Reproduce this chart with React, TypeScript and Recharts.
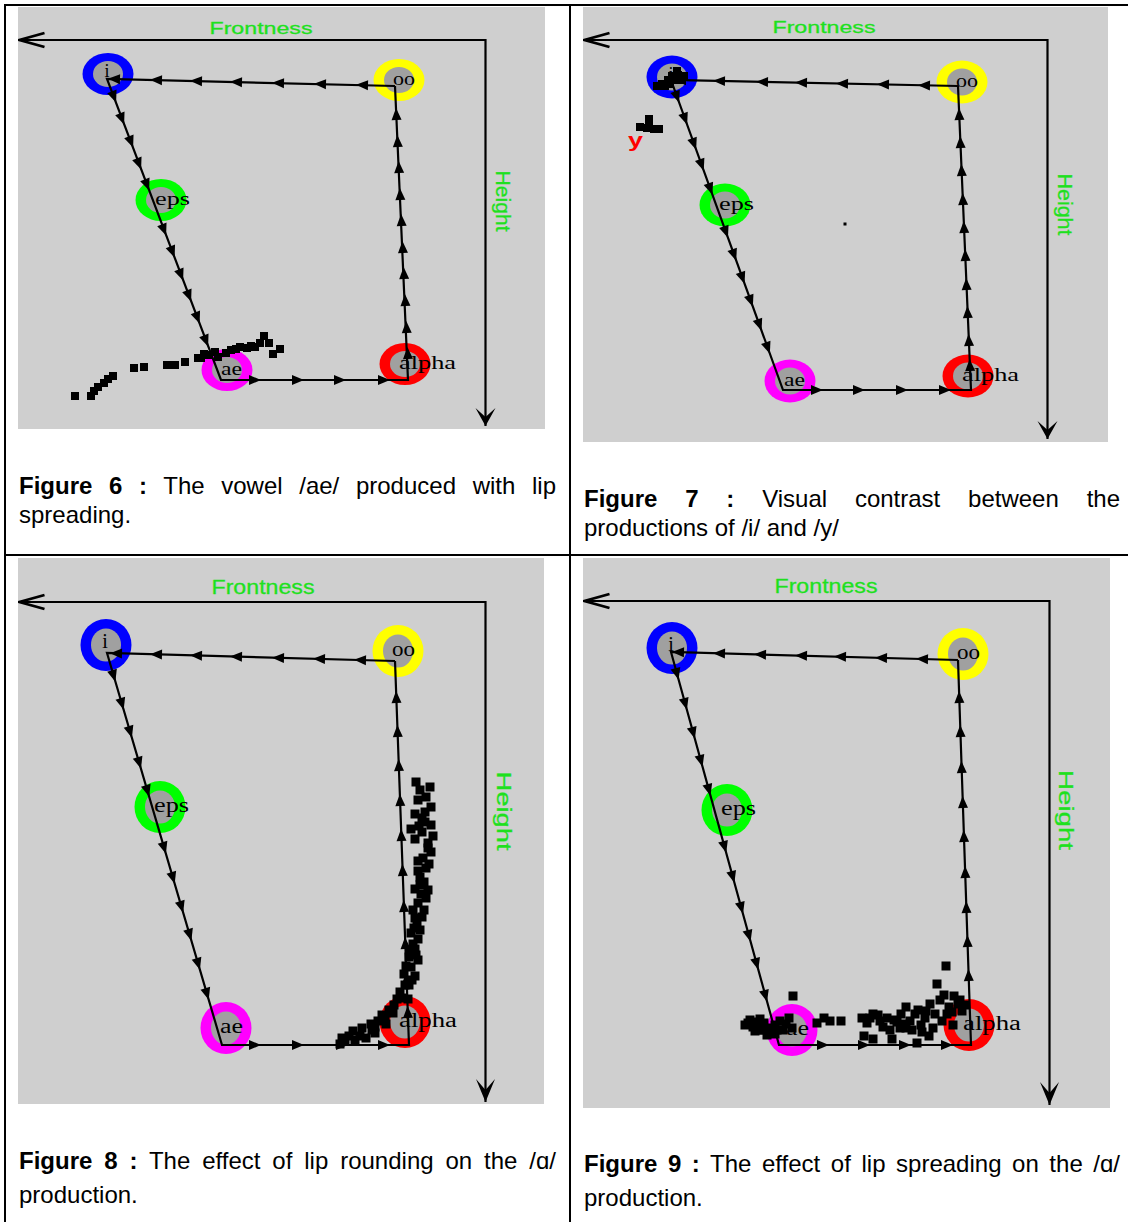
import React from 'react';
import { ScatterChart, Scatter, XAxis, YAxis } from 'recharts';

// ---------------- Figure 6 : /ae/ with lip spreading ----------------
const fig6Vowels = [
  { name: 'i', x: 108, y: 74 },
  { name: 'oo', x: 399, y: 80 },
  { name: 'eps', x: 161, y: 200 },
  { name: 'ae', x: 227, y: 370 },
  { name: 'alpha', x: 405, y: 364 },
];
const fig6Path = [
  { x: 395, y: 86 }, { x: 107, y: 79 }, { x: 221, y: 380 }, { x: 408, y: 380 }, { x: 395, y: 86 },
];
const fig6Arrows = [
  { leg: 0, x: 362, y: 85 }, { leg: 0, x: 320, y: 84 }, { leg: 0, x: 278, y: 83 }, { leg: 0, x: 236, y: 82 },
  { leg: 0, x: 196, y: 81 }, { leg: 0, x: 156, y: 80 }, { leg: 0, x: 114, y: 79 },
  { leg: 1, x: 114, y: 97 }, { leg: 1, x: 122, y: 119 }, { leg: 1, x: 131, y: 142 }, { leg: 1, x: 139, y: 164 },
  { leg: 1, x: 147, y: 185 }, { leg: 1, x: 164, y: 230 }, { leg: 1, x: 172.5, y: 252 }, { leg: 1, x: 181, y: 275 },
  { leg: 1, x: 189, y: 296 }, { leg: 1, x: 197.5, y: 318 }, { leg: 1, x: 206, y: 341 },
  { leg: 2, x: 255, y: 380 }, { leg: 2, x: 298, y: 380 }, { leg: 2, x: 340, y: 380 }, { leg: 2, x: 384, y: 380 },
  { leg: 3, x: 407.7, y: 353 }, { leg: 3, x: 406.5, y: 327 }, { leg: 3, x: 405.2, y: 300 }, { leg: 3, x: 403.9, y: 273 },
  { leg: 3, x: 402.7, y: 247 }, { leg: 3, x: 401.4, y: 220 }, { leg: 3, x: 400.1, y: 194 }, { leg: 3, x: 398.9, y: 167 },
  { leg: 3, x: 397.6, y: 141 }, { leg: 3, x: 396.3, y: 114 },
];
const fig6Tokens = [
  { x: 75, y: 396 }, { x: 91, y: 396 }, { x: 94, y: 391 }, { x: 98, y: 387 }, { x: 104, y: 383 }, { x: 108, y: 379 },
  { x: 113, y: 376 }, { x: 134, y: 368 }, { x: 144, y: 367 }, { x: 167, y: 365 }, { x: 175, y: 365 }, { x: 185, y: 362 },
  { x: 198, y: 358 }, { x: 204, y: 354 }, { x: 209, y: 355 }, { x: 215, y: 352 }, { x: 218, y: 357 }, { x: 226, y: 353 },
  { x: 231, y: 350 }, { x: 240, y: 347 }, { x: 247, y: 348 }, { x: 255, y: 347 }, { x: 260, y: 343 }, { x: 264, y: 336 },
  { x: 269, y: 343 }, { x: 273, y: 354 }, { x: 280, y: 349 }, { x: 201, y: 358 }, { x: 236, y: 349 }, { x: 251, y: 346 },
];

// ---------------- Figure 7 : /i/ vs /y/ ----------------
const fig7Vowels = [
  { name: 'i', x: 672, y: 77 },
  { name: 'oo', x: 962, y: 82 },
  { name: 'eps', x: 725, y: 205 },
  { name: 'ae', x: 790, y: 381 },
  { name: 'alpha', x: 968, y: 376 },
];
const fig7Path = [
  { x: 958, y: 86 }, { x: 671, y: 80 }, { x: 783, y: 390 }, { x: 971, y: 390 }, { x: 958, y: 86 },
];
const fig7Arrows = [
  { leg: 0, x: 924, y: 85.3 }, { leg: 0, x: 883, y: 84.4 }, { leg: 0, x: 842, y: 83.6 }, { leg: 0, x: 801, y: 82.7 },
  { leg: 0, x: 762, y: 81.9 }, { leg: 0, x: 719, y: 81 }, { leg: 0, x: 680, y: 80.2 },
  { leg: 1, x: 677.1, y: 97 }, { leg: 1, x: 685.1, y: 119 }, { leg: 1, x: 694.1, y: 144 }, { leg: 1, x: 701.7, y: 165 },
  { leg: 1, x: 710.4, y: 189 }, { leg: 1, x: 725.9, y: 232 }, { leg: 1, x: 734.2, y: 255 }, { leg: 1, x: 742.5, y: 278 },
  { leg: 1, x: 750.8, y: 301 }, { leg: 1, x: 759.5, y: 325 }, { leg: 1, x: 767.8, y: 348 },
  { leg: 2, x: 817, y: 390 }, { leg: 2, x: 859, y: 390 }, { leg: 2, x: 902, y: 390 }, { leg: 2, x: 945, y: 390 },
  { leg: 3, x: 969.9, y: 365 }, { leg: 3, x: 968.8, y: 340 }, { leg: 3, x: 967.6, y: 312 }, { leg: 3, x: 966.4, y: 284 },
  { leg: 3, x: 965.3, y: 255 }, { leg: 3, x: 964, y: 227 }, { leg: 3, x: 962.9, y: 199 }, { leg: 3, x: 961.6, y: 170 },
  { leg: 3, x: 960.4, y: 142 }, { leg: 3, x: 959.2, y: 114 },
];
const fig7Tokens = [
  { x: 684, y: 76 }, { x: 678, y: 75 }, { x: 672, y: 76 }, { x: 668, y: 80 }, { x: 676, y: 80 }, { x: 682, y: 80 },
  { x: 662, y: 84 }, { x: 657, y: 86 }, { x: 665, y: 86 }, { x: 670, y: 84 }, { x: 677, y: 71 },
  { x: 649, y: 119 }, { x: 649, y: 124 }, { x: 640, y: 127 }, { x: 647, y: 128 }, { x: 654, y: 129 }, { x: 659, y: 129 },
];
const fig7Speck = [{ x: 845, y: 224 }];
const fig7Marker = [{ x: 635.5, y: 147, text: 'y' }];

// ---------------- Figure 8 : lip rounding on /ɑ/ ----------------
const fig8Vowels = [
  { name: 'i', x: 106, y: 645 },
  { name: 'oo', x: 398, y: 651 },
  { name: 'eps', x: 160, y: 807 },
  { name: 'ae', x: 226, y: 1028 },
  { name: 'alpha', x: 405, y: 1022 },
];
const fig8Path = [
  { x: 395, y: 661 }, { x: 107, y: 653 }, { x: 222, y: 1045 }, { x: 409, y: 1045 }, { x: 395, y: 661 },
];
const fig8Arrows = [
  { leg: 0, x: 360, y: 660 }, { leg: 0, x: 319, y: 658.9 }, { leg: 0, x: 278, y: 657.8 }, { leg: 0, x: 236, y: 656.6 },
  { leg: 0, x: 196, y: 655.5 }, { leg: 0, x: 156, y: 654.4 }, { leg: 0, x: 116, y: 653.3 },
  { leg: 1, x: 113.7, y: 676 }, { leg: 1, x: 122, y: 704 }, { leg: 1, x: 130.2, y: 732 }, { leg: 1, x: 139.3, y: 763 },
  { leg: 1, x: 147.5, y: 791 }, { leg: 1, x: 164.2, y: 848 }, { leg: 1, x: 173, y: 878 }, { leg: 1, x: 181.5, y: 907 },
  { leg: 1, x: 189.7, y: 935 }, { leg: 1, x: 198.2, y: 964 }, { leg: 1, x: 207, y: 994 },
  { leg: 2, x: 255, y: 1045 }, { leg: 2, x: 298, y: 1045 }, { leg: 2, x: 342, y: 1045 }, { leg: 2, x: 384, y: 1045 },
  { leg: 3, x: 407.8, y: 1012 }, { leg: 3, x: 406.6, y: 978 }, { leg: 3, x: 405.3, y: 943 }, { leg: 3, x: 403.9, y: 906 },
  { leg: 3, x: 402.6, y: 870 }, { leg: 3, x: 401.3, y: 835 }, { leg: 3, x: 400.1, y: 800 }, { leg: 3, x: 398.8, y: 765 },
  { leg: 3, x: 397.6, y: 731 }, { leg: 3, x: 396.3, y: 697 },
];
const fig8Tokens = [
  { x: 416, y: 782 }, { x: 430, y: 787 }, { x: 426, y: 797 }, { x: 418, y: 800 }, { x: 431, y: 807 }, { x: 415, y: 814 },
  { x: 422, y: 818 }, { x: 431, y: 825 }, { x: 411, y: 829 }, { x: 422, y: 832 }, { x: 433, y: 836 }, { x: 415, y: 839 },
  { x: 428, y: 843 }, { x: 431, y: 852 }, { x: 418, y: 861 }, { x: 429, y: 864 }, { x: 418, y: 871 }, { x: 424, y: 882 },
  { x: 415, y: 889 }, { x: 426, y: 898 }, { x: 418, y: 903 }, { x: 413, y: 910 }, { x: 422, y: 917 }, { x: 417, y: 925 },
  { x: 411, y: 933 }, { x: 418, y: 939 }, { x: 415, y: 949 }, { x: 409, y: 957 }, { x: 418, y: 960 }, { x: 411, y: 967 },
  { x: 404, y: 974 }, { x: 415, y: 976 }, { x: 400, y: 992 }, { x: 397, y: 999 }, { x: 389, y: 1010 }, { x: 382, y: 1015 },
  { x: 378, y: 1021 }, { x: 371, y: 1024 }, { x: 362, y: 1028 }, { x: 353, y: 1031 }, { x: 349, y: 1036 }, { x: 342, y: 1038 },
  { x: 340, y: 1044 }, { x: 366, y: 1038 }, { x: 375, y: 1033 }, { x: 386, y: 1024 }, { x: 393, y: 1013 }, { x: 408, y: 999 },
  { x: 409, y: 985 }, { x: 420, y: 790 }, { x: 425, y: 812 }, { x: 419, y: 826 }, { x: 428, y: 848 }, { x: 423, y: 858 },
  { x: 420, y: 877 }, { x: 428, y: 890 }, { x: 421, y: 894 }, { x: 424, y: 910 }, { x: 415, y: 918 }, { x: 420, y: 930 },
  { x: 413, y: 944 }, { x: 410, y: 950 }, { x: 406, y: 966 }, { x: 412, y: 980 }, { x: 405, y: 985 }, { x: 402, y: 998 },
  { x: 394, y: 1005 }, { x: 385, y: 1018 }, { x: 372, y: 1030 }, { x: 360, y: 1036 }, { x: 355, y: 1040 }, { x: 345, y: 1041 },
  { x: 375, y: 1027 }, { x: 425, y: 822 }, { x: 426, y: 868 }, { x: 420, y: 885 }, { x: 414, y: 928 }, { x: 416, y: 955 },
];

// ---------------- Figure 9 : lip spreading on /ɑ/ ----------------
const fig9Vowels = [
  { name: 'i', x: 672, y: 648 },
  { name: 'oo', x: 963, y: 654 },
  { name: 'eps', x: 727, y: 810 },
  { name: 'ae', x: 792, y: 1030 },
  { name: 'alpha', x: 969, y: 1025 },
];
const fig9Path = [
  { x: 958, y: 660 }, { x: 671, y: 652 }, { x: 779, y: 1045 }, { x: 971, y: 1045 }, { x: 958, y: 660 },
];
const fig9Arrows = [
  { leg: 0, x: 922, y: 659 }, { leg: 0, x: 881, y: 657.9 }, { leg: 0, x: 840, y: 656.7 }, { leg: 0, x: 801, y: 655.6 },
  { leg: 0, x: 760, y: 654.5 }, { leg: 0, x: 719, y: 653.3 }, { leg: 0, x: 678, y: 652.2 },
  { leg: 1, x: 677, y: 674 }, { leg: 1, x: 685.3, y: 704 }, { leg: 1, x: 693.3, y: 733 }, { leg: 1, x: 701, y: 761 },
  { leg: 1, x: 708.9, y: 790 }, { leg: 1, x: 724.6, y: 847 }, { leg: 1, x: 732.8, y: 877 }, { leg: 1, x: 741.4, y: 908 },
  { leg: 1, x: 749, y: 936 }, { leg: 1, x: 756.7, y: 964 }, { leg: 1, x: 765.5, y: 996 },
  { leg: 2, x: 823, y: 1045 }, { leg: 2, x: 864, y: 1045 }, { leg: 2, x: 905, y: 1045 }, { leg: 2, x: 947, y: 1045 },
  { leg: 3, x: 968.6, y: 975 }, { leg: 3, x: 967.5, y: 941 }, { leg: 3, x: 966.3, y: 907 }, { leg: 3, x: 965.2, y: 872 },
  { leg: 3, x: 963.9, y: 836 }, { leg: 3, x: 962.8, y: 802 }, { leg: 3, x: 961.6, y: 767 }, { leg: 3, x: 960.4, y: 731 },
  { leg: 3, x: 959.2, y: 697 },
];
const fig9Tokens = [
  { x: 748, y: 1023 }, { x: 753, y: 1027 }, { x: 759, y: 1030 }, { x: 764, y: 1023 }, { x: 769, y: 1028 }, { x: 775, y: 1025 },
  { x: 780, y: 1021 }, { x: 783, y: 1030 }, { x: 792, y: 1028 }, { x: 789, y: 1018 }, { x: 793, y: 996 }, { x: 817, y: 1023 },
  { x: 824, y: 1018 }, { x: 830, y: 1021 }, { x: 841, y: 1021 }, { x: 862, y: 1018 }, { x: 867, y: 1023 }, { x: 873, y: 1014 },
  { x: 880, y: 1021 }, { x: 887, y: 1018 }, { x: 894, y: 1020 }, { x: 901, y: 1014 }, { x: 906, y: 1007 }, { x: 910, y: 1021 },
  { x: 915, y: 1014 }, { x: 921, y: 1025 }, { x: 926, y: 1011 }, { x: 930, y: 1004 }, { x: 935, y: 1014 }, { x: 937, y: 984 },
  { x: 940, y: 1000 }, { x: 944, y: 995 }, { x: 946, y: 966 }, { x: 949, y: 1007 }, { x: 954, y: 996 }, { x: 958, y: 1004 },
  { x: 962, y: 1011 }, { x: 965, y: 1005 }, { x: 922, y: 1032 }, { x: 929, y: 1036 }, { x: 917, y: 1043 }, { x: 892, y: 1039 },
  { x: 873, y: 1039 }, { x: 864, y: 1036 }, { x: 906, y: 1028 }, { x: 883, y: 1027 }, { x: 912, y: 1030 }, { x: 942, y: 1021 },
  { x: 947, y: 1014 }, { x: 953, y: 1025 }, { x: 933, y: 1028 }, { x: 750, y: 1020 }, { x: 757, y: 1022 }, { x: 762, y: 1030 },
  { x: 770, y: 1032 }, { x: 777, y: 1030 }, { x: 786, y: 1024 }, { x: 745, y: 1025 }, { x: 755, y: 1031 }, { x: 870, y: 1018 },
  { x: 878, y: 1015 }, { x: 897, y: 1022 }, { x: 903, y: 1024 }, { x: 925, y: 1018 }, { x: 918, y: 1010 }, { x: 952, y: 1012 },
  { x: 960, y: 1000 }, { x: 900, y: 1028 }, { x: 890, y: 1030 }, { x: 767, y: 1035 }, { x: 760, y: 1019 }, { x: 775, y: 1034 },
];

// ---------------- Captions ----------------
const captionTitles = ['Figure 6 :', 'Figure 7 :', 'Figure 8 :', 'Figure 9 :'];
const captionFirstLines = [
  'The vowel /ae/ produced with lip',
  'Visual contrast between the',
  'The effect of lip rounding on the /ɑ/',
  'The effect of lip spreading on the /ɑ/',
];
const captionSecondLines = ['spreading.', 'productions of /i/ and /y/', 'production.', 'production.'];

// ---------------- Styles ----------------
const VOWEL_COLORS: Record<string, string> = {
  i: '#0000ff', oo: '#ffff00', eps: '#00ff00', ae: '#ff00ff', alpha: '#ff0000',
};
const GREEN = '#1ee01e';
const BG = '#cfcfcf';
const INNER = '#a0a0a0';
const SERIF = "'Liberation Serif', 'Times New Roman', serif";
const SANS = "'Liberation Sans', Arial, sans-serif";

type Cfg = {
  left: number; top: number; width: number; height: number;
  axisY: number; axisX: number; leftTip: number; bottomTip: number;
  frontX: number; frontY: number; frontSize: number; frontLen: number;
  heightX: number; heightY: number; heightSize: number; heightLen: number;
  ringRx: number; ringRy: number; innerRx: number; innerRy: number;
  labelSize: number; labelW: Record<string, number>;
  tokW: number; tokH: number;
  downLen: number; downHalf: number; downNotch: number;
};

const smallLabels = { oo: 22, eps: 35, ae: 21, alpha: 57 };
const bigLabels = { oo: 23, eps: 35, ae: 23, alpha: 58 };

const P6: Cfg = {
  left: 18, top: 7, width: 527, height: 422, axisY: 40, axisX: 485.5, leftTip: 18.5, bottomTip: 426,
  frontX: 261, frontY: 33.5, frontSize: 16, frontLen: 103, heightX: 496, heightY: 201, heightSize: 20, heightLen: 61,
  ringRx: 25.5, ringRy: 21, innerRx: 15, innerRy: 13, labelSize: 18, labelW: smallLabels,
  tokW: 8, tokH: 8, downLen: 18, downHalf: 10, downNotch: 9,
};
const P7: Cfg = {
  left: 583, top: 7, width: 525, height: 435, axisY: 40, axisX: 1047.5, leftTip: 583.5, bottomTip: 439,
  frontX: 824, frontY: 32.5, frontSize: 16, frontLen: 103, heightX: 1058, heightY: 204.5, heightSize: 20, heightLen: 62,
  ringRx: 25.5, ringRy: 21.5, innerRx: 15, innerRy: 13.5, labelSize: 18, labelW: smallLabels,
  tokW: 8, tokH: 8, downLen: 18, downHalf: 10, downNotch: 9,
};
const P8: Cfg = {
  left: 18, top: 558, width: 526, height: 546, axisY: 602, axisX: 485.5, leftTip: 18.5, bottomTip: 1102,
  frontX: 263, frontY: 594, frontSize: 20, frontLen: 103, heightX: 497, heightY: 811, heightSize: 21, heightLen: 79,
  ringRx: 25.5, ringRy: 26, innerRx: 15, innerRy: 16.5, labelSize: 20, labelW: bigLabels,
  tokW: 9, tokH: 9, downLen: 23, downHalf: 9.5, downNotch: 12,
};
const P9: Cfg = {
  left: 583, top: 558, width: 527, height: 550, axisY: 601, axisX: 1049.5, leftTip: 583.5, bottomTip: 1105,
  frontX: 826, frontY: 593, frontSize: 20, frontLen: 103, heightX: 1059, heightY: 810, heightSize: 21, heightLen: 80,
  ringRx: 25.5, ringRy: 26, innerRx: 15, innerRy: 16.5, labelSize: 20, labelW: bigLabels,
  tokW: 9, tokH: 9, downLen: 23, downHalf: 9.5, downNotch: 12,
};

type Pt = { x: number; y: number };

function VowelPanel(props: {
  cfg: Cfg; vowels: any[]; path: Pt[]; arrows: any[]; tokens: Pt[]; speck?: Pt[]; marker?: any[];
}) {
  const { cfg, vowels, path, arrows, tokens, speck, marker } = props;
  const frame = [
    { x: cfg.leftTip, y: cfg.axisY, kind: 'left' },
    { x: cfg.axisX, y: cfg.axisY, kind: 'corner' },
    { x: cfg.axisX, y: cfg.bottomTip, kind: 'down' },
  ];
  const titles = [
    { x: cfg.frontX, y: cfg.frontY, kind: 'front' },
    { x: cfg.heightX, y: cfg.heightY, kind: 'height' },
  ];

  const frameShape = (p: any) => {
    const { cx, cy, payload } = p;
    if (payload.kind === 'left') {
      return (
        <path d={`M${cx + 26},${cy - 7} L${cx + 1},${cy} L${cx + 26},${cy + 7}`}
          fill="none" stroke="#000" strokeWidth={2.8} strokeLinejoin="miter" />
      );
    }
    if (payload.kind === 'down') {
      return (
        <path d={`M${cx},${cy} L${cx - cfg.downHalf},${cy - cfg.downLen} L${cx},${cy - cfg.downNotch} L${cx + cfg.downHalf},${cy - cfg.downLen} Z`}
          fill="#000" />
      );
    }
    return <g />;
  };

  const titleShape = (p: any) => {
    const { cx, cy, payload } = p;
    if (payload.kind === 'front') {
      return (
        <text x={cx} y={cy} textAnchor="middle" fontFamily={SANS} fontSize={cfg.frontSize} fill={GREEN}
          stroke={GREEN} strokeWidth={0.3}
          textLength={cfg.frontLen} lengthAdjust="spacingAndGlyphs">Frontness</text>
      );
    }
    return (
      <text x={cx} y={cy} textAnchor="middle" fontFamily={SANS} fontSize={cfg.heightSize} fill={GREEN}
        stroke={GREEN} strokeWidth={0.3}
        transform={`rotate(90 ${cx} ${cy})`} textLength={cfg.heightLen} lengthAdjust="spacingAndGlyphs">Height</text>
    );
  };

  const vowelShape = (p: any) => {
    const { cx, cy, payload } = p;
    const name = payload.name as string;
    const w = cfg.labelW[name];
    return (
      <g>
        <ellipse cx={cx} cy={cy} rx={cfg.ringRx} ry={cfg.ringRy} fill={VOWEL_COLORS[name]} />
        <ellipse cx={cx} cy={cy} rx={cfg.innerRx} ry={cfg.innerRy} fill={INNER} />
        {name === 'i' ? (
          <text x={cx - 1} y={cy + 3} textAnchor="middle" fontFamily={SERIF} fontSize={cfg.labelSize} fill="#000">i</text>
        ) : (
          <text x={cx - 6} y={cy + 5} fontFamily={SERIF} fontSize={cfg.labelSize} fill="#000"
            textLength={w} lengthAdjust="spacingAndGlyphs">{name}</text>
        )}
      </g>
    );
  };

  const arrowShape = (p: any) => {
    const { cx, cy, payload } = p;
    const a = path[payload.leg];
    const b = path[payload.leg + 1];
    const deg = (Math.atan2(b.y - a.y, b.x - a.x) * 180) / Math.PI;
    return (
      <polygon points="6,0 -6,-5 -6,5" fill="#000" transform={`translate(${cx},${cy}) rotate(${deg})`} />
    );
  };

  const tokenShape = (p: any) => {
    const { cx, cy } = p;
    return <rect x={cx - cfg.tokW / 2} y={cy - cfg.tokH / 2} width={cfg.tokW} height={cfg.tokH} fill="#000" />;
  };
  const speckShape = (p: any) => <rect x={p.cx - 1.5} y={p.cy - 1.5} width={3} height={3} fill="#000" />;
  const markerShape = (p: any) => (
    <text x={p.cx} y={p.cy} textAnchor="middle" fontFamily={SANS} fontWeight="bold" fontSize={21} fill="#ff0000"
      textLength={15} lengthAdjust="spacingAndGlyphs">{p.payload.text}</text>
  );
  const none = () => <g />;

  return (
    <div style={{ position: 'absolute', left: cfg.left, top: cfg.top, width: cfg.width, height: cfg.height, background: BG }}>
      <ScatterChart width={cfg.width} height={cfg.height} margin={{ top: 0, right: 0, bottom: 0, left: 0 }}>
        <XAxis type="number" dataKey="x" domain={[cfg.left, cfg.left + cfg.width]} hide allowDataOverflow />
        <YAxis type="number" dataKey="y" domain={[cfg.top, cfg.top + cfg.height]} hide reversed allowDataOverflow />
        <Scatter data={frame} line={{ stroke: '#000', strokeWidth: 2.2 }} shape={frameShape} isAnimationActive={false} />
        <Scatter data={titles} shape={titleShape} isAnimationActive={false} />
        <Scatter data={vowels} shape={vowelShape} isAnimationActive={false} />
        <Scatter data={path} line={{ stroke: '#000', strokeWidth: 2.2 }} shape={none} isAnimationActive={false} />
        <Scatter data={arrows} shape={arrowShape} isAnimationActive={false} />
        <Scatter data={tokens} shape={tokenShape} isAnimationActive={false} />
        {speck && <Scatter data={speck} shape={speckShape} isAnimationActive={false} />}
        {marker && <Scatter data={marker} shape={markerShape} isAnimationActive={false} />}
      </ScatterChart>
    </div>
  );
}

function Caption(props: { idx: number; left: number; top: number; width: number; lh: number }) {
  const { idx, left, top, width, lh } = props;
  return (
    <div style={{ position: 'absolute', left, top, width, fontFamily: SANS, fontSize: 24, lineHeight: `${lh}px`, color: '#000' }}>
      <div style={{ textAlign: 'justify', textAlignLast: 'justify' } as any}>
        <b>{captionTitles[idx]}</b> {captionFirstLines[idx]}
      </div>
      <div>{captionSecondLines[idx]}</div>
    </div>
  );
}

export default function App() {
  const line = (s: React.CSSProperties) => <div style={{ position: 'absolute', background: '#000', ...s }} />;
  return (
    <div style={{ position: 'absolute', left: 0, top: 0, width: 1128, height: 1222, background: '#fff', overflow: 'hidden' }}>
      {line({ left: 4, top: 4, width: 1124, height: 2 })}
      {line({ left: 4, top: 4, width: 2, height: 1218 })}
      {line({ left: 569, top: 4, width: 2, height: 1218 })}
      {line({ left: 4, top: 554, width: 1124, height: 2 })}

      <VowelPanel cfg={P6} vowels={fig6Vowels} path={fig6Path} arrows={fig6Arrows} tokens={fig6Tokens} />
      <VowelPanel cfg={P7} vowels={fig7Vowels} path={fig7Path} arrows={fig7Arrows} tokens={fig7Tokens}
        speck={fig7Speck} marker={fig7Marker} />
      <VowelPanel cfg={P8} vowels={fig8Vowels} path={fig8Path} arrows={fig8Arrows} tokens={fig8Tokens} />
      <VowelPanel cfg={P9} vowels={fig9Vowels} path={fig9Path} arrows={fig9Arrows} tokens={fig9Tokens} />

      <Caption idx={0} left={19} top={470.5} width={537} lh={29} />
      <Caption idx={1} left={584} top={483.5} width={536} lh={29} />
      <Caption idx={2} left={19} top={1144} width={537} lh={34} />
      <Caption idx={3} left={584} top={1147} width={536} lh={34} />
    </div>
  );
}
